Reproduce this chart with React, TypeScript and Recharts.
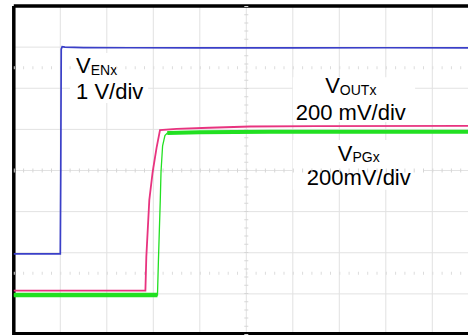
import React from "react";
import { LineChart, Line, XAxis, YAxis, CartesianGrid, ReferenceLine, ReferenceArea } from "recharts";

// time in divisions, voltage in screen divisions (from bottom)
const venTime = [0, 1.0, 1.01, 1.02, 1.04, 1.1, 1.5, 2.5, 4, 6, 8, 10];
const venDiv = [1.975, 1.975, 4.0, 6.95, 7.01, 7.0, 6.99, 6.985, 6.98, 6.98, 6.985, 6.98];

const voutTime = [0, 2.83, 2.85, 2.914, 2.987, 3.07, 3.144, 3.5, 4.2, 5.08, 6.5, 10];
const voutDiv = [1.077, 1.077, 1.9, 3.28, 3.97, 4.55, 4.985, 5.01, 5.04, 5.07, 5.08, 5.085];

const vpgTime = [0, 3.09, 3.11, 3.15, 3.166, 3.2, 3.25, 3.3, 4, 5.5, 10];
const vpgDiv = [0.973, 0.973, 1.8, 3.28, 3.97, 4.6, 4.85, 4.91, 4.93, 4.94, 4.945];

const xTicks = [0, 1, 2, 3, 4, 5, 6, 7, 8, 9, 10];
const yTicks = [0, 1, 2, 3, 4, 5, 6, 7, 8];

const venLabel = { main: "V", sub: "ENx", scale: "1 V/div" };
const voutLabel = { main: "V", sub: "OUTx", scale: "200 mV/div" };
const vpgLabel = { main: "V", sub: "PGx", scale: "200mV/div" };

const toPts = (t: number[], v: number[]) => t.map((x, i) => ({ t: x, v: v[i] }));
const venData = toPts(venTime, venDiv);
const voutData = toPts(voutTime, voutDiv);
const vpgData = toPts(vpgTime, vpgDiv);
const vpgLow = vpgData.filter((p) => p.v < 1.5);
const vpgHigh = vpgData.filter((p) => p.v > 4.9);

const FONT = "'Liberation Sans', Arial, Helvetica, sans-serif";

const LeftLabel = (props: any) => {
  const vb = props.viewBox || {};
  const x = vb.x + 6;
  return (
    <g fontFamily={FONT} fill="#000">
      <text x={x} y={vb.y + 20} fontSize={22}>
        {venLabel.main}
        <tspan fontSize={14} dy={2}>{venLabel.sub}</tspan>
      </text>
      <text x={x} y={vb.y + 46} fontSize={22}>{venLabel.scale}</text>
    </g>
  );
};

const CenterLabel = (lab: { main: string; sub: string; scale: string }, dx: number, b1: number, b2: number, sdy: number) => (props: any) => {
  const vb = props.viewBox || {};
  const cx = vb.x + dx;
  return (
    <g fontFamily={FONT} fill="#000">
      <text x={cx} y={vb.y + b1} fontSize={22} textAnchor="middle">
        {lab.main}
        <tspan fontSize={14} dy={sdy}>{lab.sub}</tspan>
      </text>
      <text x={cx} y={vb.y + b2} fontSize={22} textAnchor="middle">{lab.scale}</text>
    </g>
  );
};

const Frame = (props: any) => {
  const vb = props.viewBox || {};
  return (
    <g>
      <line x1={vb.x} y1={vb.y} x2={vb.x + vb.width} y2={vb.y} stroke="#000" strokeWidth={3.5} />
      <line x1={vb.x} y1={vb.y} x2={vb.x} y2={vb.y + vb.height} stroke="#000" strokeWidth={3.5} />
      <line x1={vb.x} y1={vb.y + vb.height - 1.5} x2={vb.x + vb.width} y2={vb.y + vb.height - 1.5} stroke="#000" strokeWidth={3} />
    </g>
  );
};

export default function App() {
  return (
    <div style={{ position: "absolute", top: 0, left: 0, width: 468, height: 335, overflow: "hidden", background: "#fff" }}>
      <LineChart width={500} height={335} margin={{ top: 6, left: 13.8, right: 21.2, bottom: 0 }} style={{ overflow: "visible" }}>
        <XAxis dataKey="t" type="number" domain={[0, 10]} ticks={xTicks} hide allowDuplicatedCategory={false} />
        <YAxis type="number" domain={[0, 8]} ticks={yTicks} hide />
        <CartesianGrid stroke="#e2e2e2" strokeWidth={1} />
        <ReferenceLine y={4} stroke="#d6d6d6" strokeWidth={4} strokeDasharray="1 8.3" />
        <ReferenceLine x={5} stroke="#d6d6d6" strokeWidth={4} strokeDasharray="1 7.2" />
        <ReferenceLine y={6.5} stroke="#dcdcdc" strokeWidth={3} strokeDasharray="1 8.3" />
        <ReferenceLine y={1.5} stroke="#dcdcdc" strokeWidth={3} strokeDasharray="1 8.3" />
        <ReferenceArea x1={1.21} x2={2.89} y1={5.64} y2={6.86} fill="#fff" fillOpacity={1} stroke="none" label={LeftLabel} />
        <ReferenceArea x1={6.0} x2={8.63} y1={5.18} y2={6.27} fill="#fff" fillOpacity={1} stroke="none" label={CenterLabel(voutLabel, 58, 16, 43, 2)} />
        <ReferenceArea x1={6.0} x2={8.8} y1={3.53} y2={4.74} fill="#fff" fillOpacity={1} stroke="none" label={CenterLabel(vpgLabel, 66, 21, 45, 0.5)} />
        <Line data={vpgLow} dataKey="v" type="linear" stroke="#22e022" strokeWidth={4.5} dot={false} isAnimationActive={false} />
        <Line data={vpgHigh} dataKey="v" type="linear" stroke="#22e022" strokeWidth={4} dot={false} isAnimationActive={false} />
        <Line data={vpgData} dataKey="v" type="linear" stroke="#22e022" strokeWidth={1.3} dot={false} isAnimationActive={false} />
        <Line data={voutData} dataKey="v" type="linear" stroke="#e8337f" strokeWidth={1.8} dot={false} isAnimationActive={false} />
        <Line data={venData} dataKey="v" type="linear" stroke="#3a3fc8" strokeWidth={1.7} dot={false} isAnimationActive={false} />
        <ReferenceArea x1={0} x2={10} y1={0} y2={8} ifOverflow="visible" fill="none" fillOpacity={0} stroke="none" label={Frame} />
      </LineChart>
    </div>
  );
}
